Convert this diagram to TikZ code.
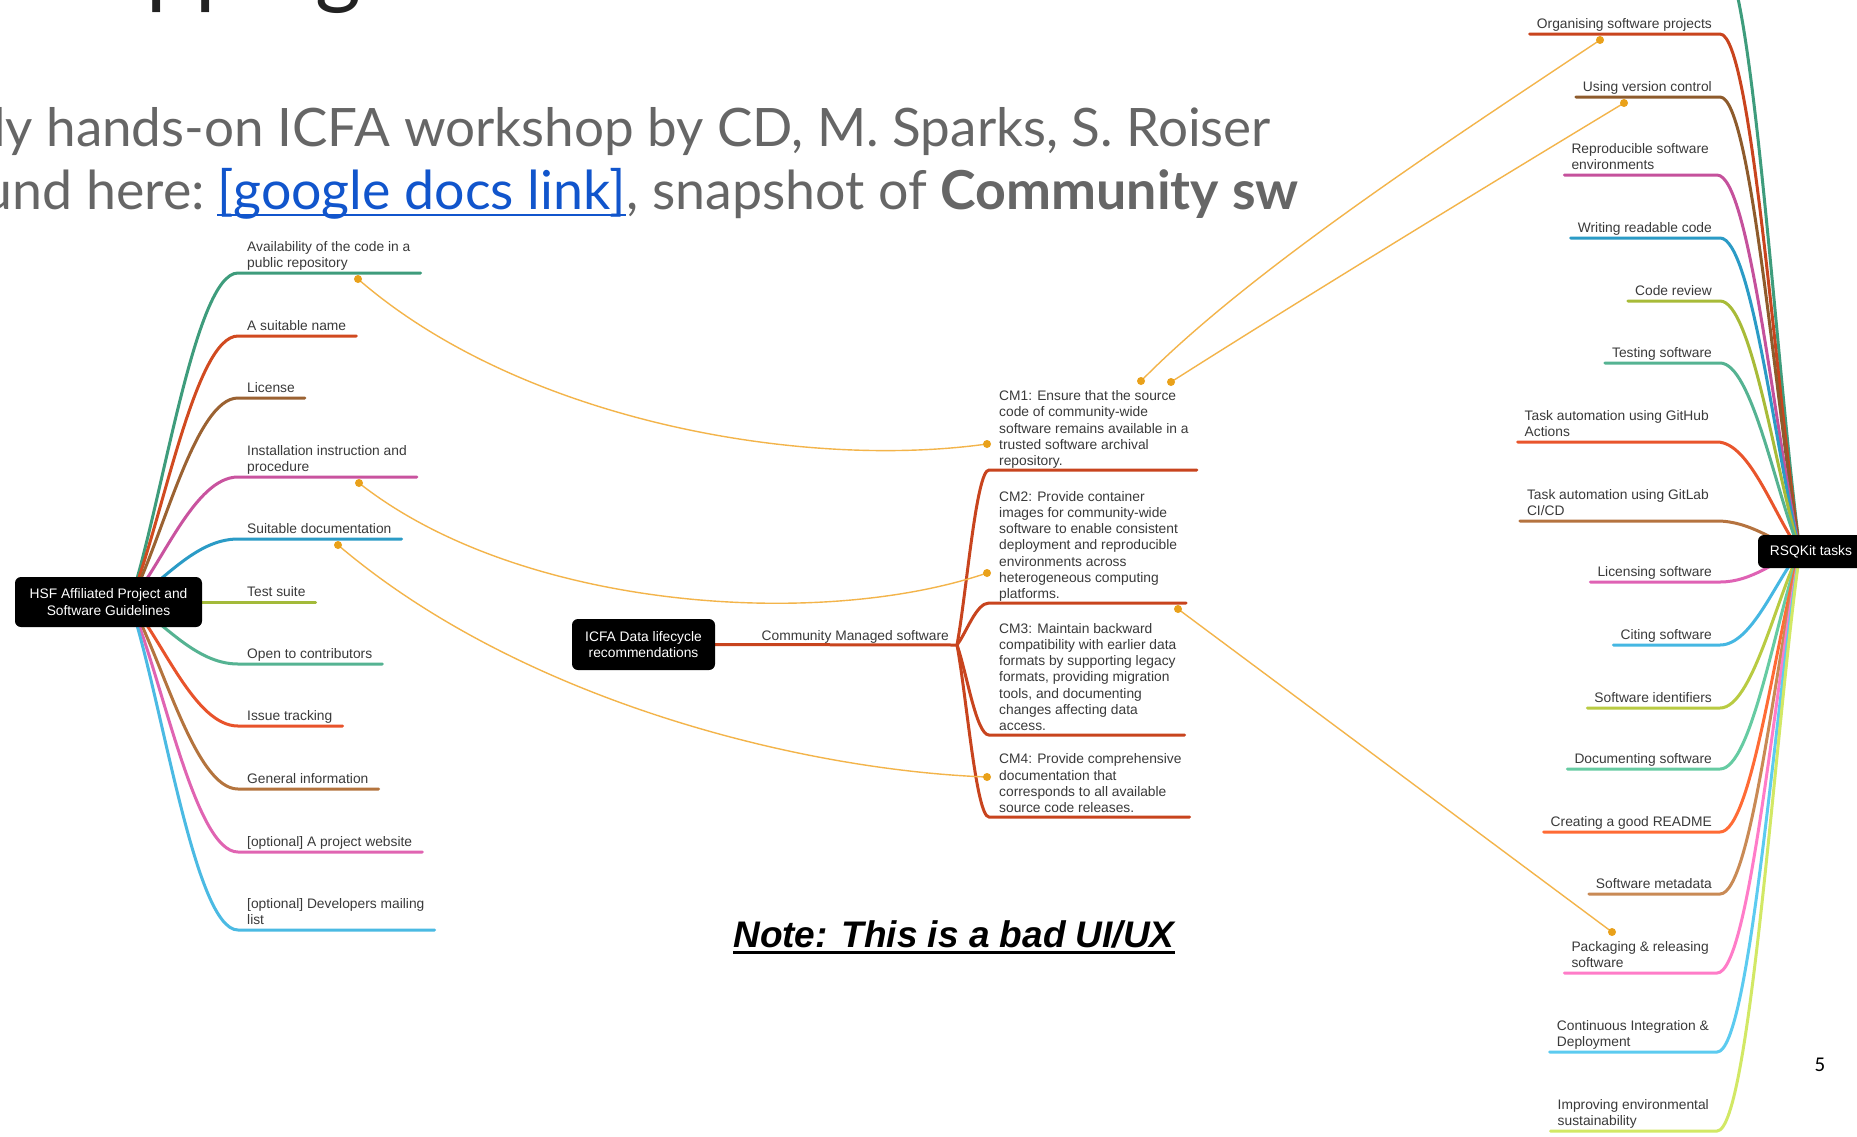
\documentclass[tikz,border=0pt]{standalone}
\usepackage{fontspec}
\setmainfont{Liberation Sans}
\newfontfamily\slidefont{Lato}
\newfontfamily\pagefont{Carlito}
\usetikzlibrary{calc}
\pgfdeclarelayer{back}
\pgfsetlayers{back,main}

\definecolor{slidegray}{HTML}{666666}
\definecolor{linkblue}{HTML}{1155CC}
\definecolor{titleink}{HTML}{222222}
\definecolor{labelgray}{HTML}{3A3A3A}
\definecolor{tieorange}{HTML}{F3B44A}
\definecolor{dotorange}{HTML}{E9A11A}
\definecolor{cmred}{HTML}{C8441E}
% branch colours of the HSF guidelines map
\definecolor{hcA}{HTML}{3E9C7C}
\definecolor{hcB}{HTML}{D14A20}
\definecolor{hcC}{HTML}{9B6232}
\definecolor{hcD}{HTML}{C9539F}
\definecolor{hcE}{HTML}{2B9BC6}
\definecolor{hcF}{HTML}{A3BA3A}
\definecolor{hcG}{HTML}{55B392}
\definecolor{hcH}{HTML}{E8532B}
\definecolor{hcI}{HTML}{B4743E}
\definecolor{hcJ}{HTML}{E064B2}
\definecolor{hcK}{HTML}{4BBAE3}
% branch colours of the RSQKit map
\definecolor{rcA}{HTML}{3E9C7C}
\definecolor{rcB}{HTML}{C9441E}
\definecolor{rcC}{HTML}{8E5B2C}
\definecolor{rcD}{HTML}{C5519C}
\definecolor{rcE}{HTML}{2B9BC6}
\definecolor{rcF}{HTML}{A8BB38}
\definecolor{rcG}{HTML}{55B392}
\definecolor{rcH}{HTML}{E9552C}
\definecolor{rcI}{HTML}{B5733F}
\definecolor{rcJ}{HTML}{DF62B4}
\definecolor{rcK}{HTML}{45B7E2}
\definecolor{rcL}{HTML}{B9CB42}
\definecolor{rcM}{HTML}{66CBA2}
\definecolor{rcN}{HTML}{FF6B35}
\definecolor{rcO}{HTML}{C98A55}
\definecolor{rcP}{HTML}{FF7CC8}
\definecolor{rcQ}{HTML}{5CCBF0}
\definecolor{rcR}{HTML}{D2E865}

\newcommand\labelfont{\fontsize{13.8}{16.3}\selectfont}
\newcommand\introfont{\slidefont\fontsize{53}{60}\selectfont}
\newcommand\introfontb{\slidefont\fontsize{53.7}{60}\selectfont}

\tikzset{
  branch/.style={line width=3pt, line cap=round},
  lbl/.style={inner sep=0pt, text depth=0pt, align=left, font=\labelfont, text=labelgray},
  rootbox/.style={fill=black, rounded corners=6pt, text=white, font=\labelfont, align=center, inner sep=0pt},
  tie/.style={draw=tieorange, line width=1.4pt},
  intro/.style={anchor=base east, inner sep=0pt, text=slidegray, font=\introfont},
  introb/.style={intro, font=\introfontb},
}

% branch from the HSF root to the underline of a label
\newcommand\hsfbranch[2]{%
  \coordinate (bend) at ($(#2.south west)+(-9,5)$);
  \coordinate (tail) at ($(#2.south east)+(10,5)$);
  \draw[branch,#1] (hsfo) .. controls ($(hsfo)!0.3!(bend)$) and ($(bend)!0.4!(bend-|hsfo)$) .. (bend) -- (tail);}
% branch from the RSQKit root (labels sit to its left)
\newcommand\rsqbranch[2]{%
  \coordinate (bend) at ($(#2.south east)+(8,5)$);
  \coordinate (tail) at ($(#2.south west)+(-7,5)$);
  \draw[branch,#1] (rsqo) .. controls ($(rsqo)!0.3!(bend)$) and ($(bend)!0.4!(bend-|rsqo)$) .. (bend) -- (tail);}
% branch from the "Community Managed software" junction
\newcommand\cmbranch[1]{%
  \coordinate (bend) at ($(#1.south west)+(-10,4)$);
  \coordinate (tail) at ($(#1.south east)+(8,4)$);
  \draw[branch,cmred] (cmj) .. controls ($(cmj)!0.3!(bend)$) and ($(bend)!0.4!(bend-|cmj)$) .. (bend) -- (tail);}

\begin{document}
\begin{tikzpicture}[x=1pt,y=-1pt]
\useasboundingbox (0,0) rectangle (1857,1136);
\clip (0,0) rectangle (1857,1136);
\begin{pgfonlayer}{back}
  \fill[white] (0,0) rectangle (1857,1136);
\end{pgfonlayer}

% ---- slide text ----
\node[anchor=base west, inner sep=0pt, text=titleink, font=\slidefont\fontsize{88}{90}\selectfont] (title) at (22,-3) {Mapping};
\node[intro] (intro1) at (1271,146) {ly hands-on ICFA workshop by CD, M. Sparks, S. Roiser};
\node[introb] (intro2c) at (1299,209) {, snapshot of \textbf{Community sw}};
\node[introb, text=linkblue] (link) at (intro2c.base west) {[google docs link]};
\node[introb] (intro2a) at (link.base west) {und here:\kern12pt};
\draw[linkblue, line width=2pt] ($(link.base west)+(0,6)$) -- ($(link.base east)+(0,6)$);

% ---- root boxes ----
\node[rootbox, minimum width=187pt, minimum height=50pt] (hsf) at (108.5,602) {HSF Affiliated Project and\\Software Guidelines};
\node[rootbox, minimum width=143pt, minimum height=51pt] (icfa) at (643.5,644.5) {ICFA Data lifecycle\\recommendations};
\node[rootbox, minimum width=106pt, minimum height=33pt] (rsq) at (1811,551.5) {RSQKit tasks};
\coordinate (hsfo) at (130,602);
\coordinate (rsqo) at (1800,551);

% ---- HSF guideline labels ----
\node[lbl, anchor=south west] (h1) at (247,268) {Availability of the code in a\\public repository};
\node[lbl, anchor=south west] (h2) at (247,331) {A suitable name};
\node[lbl, anchor=south west] (h3) at (247,393) {License};
\node[lbl, anchor=south west] (h4) at (247,472) {Installation instruction and\\procedure};
\node[lbl, anchor=south west] (h5) at (247,534) {Suitable documentation};
\node[lbl, anchor=south west] (h6) at (247,597) {Test suite};
\node[lbl, anchor=south west] (h7) at (247,659) {Open to contributors};
\node[lbl, anchor=south west] (h8) at (247,721) {Issue tracking};
\node[lbl, anchor=south west] (h9) at (247,784) {General information};
\node[lbl, anchor=south west] (h10) at (247,847) {[optional] A project website};
\node[lbl, anchor=south west] (h11) at (247,925) {[optional] Developers mailing\\list};

% ---- ICFA recommendations ----
\node[lbl, anchor=south east] (cms) at (949,641) {Community Managed software};
\coordinate (cmj) at ($(cms.south east)+(8,4)$);
\node[lbl, anchor=south west] (cm1) at (999,466) {CM1: Ensure that the source\\code of community-wide\\software remains available in a\\trusted software archival\\repository.};
\node[lbl, anchor=south west] (cm2) at (999,599) {CM2: Provide container\\images for community-wide\\software to enable consistent\\deployment and reproducible\\environments across\\heterogeneous computing\\platforms.};
\node[lbl, anchor=south west] (cm3) at (999,731) {CM3: Maintain backward\\compatibility with earlier data\\formats by supporting legacy\\formats, providing migration\\tools, and documenting\\changes affecting data\\access.};
\node[lbl, anchor=south west] (cm4) at (999,813) {CM4: Provide comprehensive\\documentation that\\corresponds to all available\\source code releases.};

% ---- RSQKit task labels ----
\node[lbl, anchor=south east] (r1) at (1712,29) {Organising software projects};
\node[lbl, anchor=south east] (r2) at (1712,92) {Using version control};
\node[lbl, anchor=south east] (r3) at (1709,170) {Reproducible software\\environments};
\node[lbl, anchor=south east] (r4) at (1712,233) {Writing readable code};
\node[lbl, anchor=south east] (r5) at (1712,296) {Code review};
\node[lbl, anchor=south east] (r6) at (1712,358) {Testing software};
\node[lbl, anchor=south east] (r7) at (1709,437) {Task automation using GitHub\\Actions};
\node[lbl, anchor=south east] (r8) at (1709,516) {Task automation using GitLab\\CI/CD};
\node[lbl, anchor=south east] (r9) at (1712,577) {Licensing software};
\node[lbl, anchor=south east] (r10) at (1712,640) {Citing software};
\node[lbl, anchor=south east] (r11) at (1712,703) {Software identifiers};
\node[lbl, anchor=south east] (r12) at (1712,764) {Documenting software};
\node[lbl, anchor=south east] (r13) at (1712,827) {Creating a good README};
\node[lbl, anchor=south east] (r14) at (1712,889) {Software metadata};
\node[lbl, anchor=south east] (r15) at (1709,968) {Packaging \& releasing\\software};
\node[lbl, anchor=south east] (r16) at (1709,1047) {Continuous Integration \&\\Deployment};
\node[lbl, anchor=south east] (r17) at (1709,1126) {Improving environmental\\sustainability};

% ---- cross-links between the maps ----
\coordinate (d1) at (358,279);
\coordinate (d2) at (359,483);
\coordinate (d3) at (338,545);
\coordinate (d4) at (987,444);
\coordinate (d5) at (987,573);
\coordinate (d6) at (987,777);
\coordinate (d7) at (1141,381);
\coordinate (d8) at (1171,382);
\coordinate (d9) at (1178,609);
\coordinate (d10) at (1600,40);
\coordinate (d11) at (1624,103);
\coordinate (d12) at (1612,932);
\coordinate (rtop) at (1720,-45);

\begin{pgfonlayer}{back}
  \hsfbranch{hcA}{h1}
  \hsfbranch{hcB}{h2}
  \hsfbranch{hcC}{h3}
  \hsfbranch{hcD}{h4}
  \hsfbranch{hcE}{h5}
  \hsfbranch{hcF}{h6}
  \hsfbranch{hcG}{h7}
  \hsfbranch{hcH}{h8}
  \hsfbranch{hcI}{h9}
  \hsfbranch{hcJ}{h10}
  \hsfbranch{hcK}{h11}

  \draw[branch,rcA] (rsqo) .. controls ($(rsqo)!0.3!(rtop)$) and ($(rtop)!0.4!(rtop-|rsqo)$) .. (rtop);
  \rsqbranch{rcB}{r1}
  \rsqbranch{rcC}{r2}
  \rsqbranch{rcD}{r3}
  \rsqbranch{rcE}{r4}
  \rsqbranch{rcF}{r5}
  \rsqbranch{rcG}{r6}
  \rsqbranch{rcH}{r7}
  \rsqbranch{rcI}{r8}
  \rsqbranch{rcJ}{r9}
  \rsqbranch{rcK}{r10}
  \rsqbranch{rcL}{r11}
  \rsqbranch{rcM}{r12}
  \rsqbranch{rcN}{r13}
  \rsqbranch{rcO}{r14}
  \rsqbranch{rcP}{r15}
  \rsqbranch{rcQ}{r16}
  \rsqbranch{rcR}{r17}

  \draw[branch,cmred] (icfa.east) -- (cmj);
  \cmbranch{cm1}
  \cmbranch{cm2}
  \cmbranch{cm3}
  \cmbranch{cm4}

  \draw[tie] (d1) .. controls (520,420) and (800,470) .. (d4);
  \draw[tie] (d2) .. controls (520,610) and (820,630) .. (d5);
  \draw[tie] (d3) .. controls (520,700) and (800,770) .. (d6);
  \draw[tie] (d7) .. controls (1250,270) and (1450,140) .. (d10);
  \draw[tie] (d8) .. controls (1300,300) and (1480,190) .. (d11);
  \draw[tie] (d9) -- (d12);
\end{pgfonlayer}

\foreach \d in {d1,d2,d3,d4,d5,d6,d7,d8,d9,d10,d11,d12}
  \fill[dotorange] (\d) circle (4);

% ---- note and page number ----
\node[anchor=base, inner sep=0pt, text depth=0pt, font=\fontsize{37}{40}\selectfont\bfseries\itshape] (note) at (954,947) {Note: This is a bad UI/UX};
\draw[line width=3pt] ($(note.base west)+(0,5)$) -- ($(note.base east)+(0,5)$);
\node[anchor=base, inner sep=0pt, font=\pagefont\fontsize{21}{24}\selectfont] (pageno) at (1820,1071) {5};
\end{tikzpicture}
\end{document}
